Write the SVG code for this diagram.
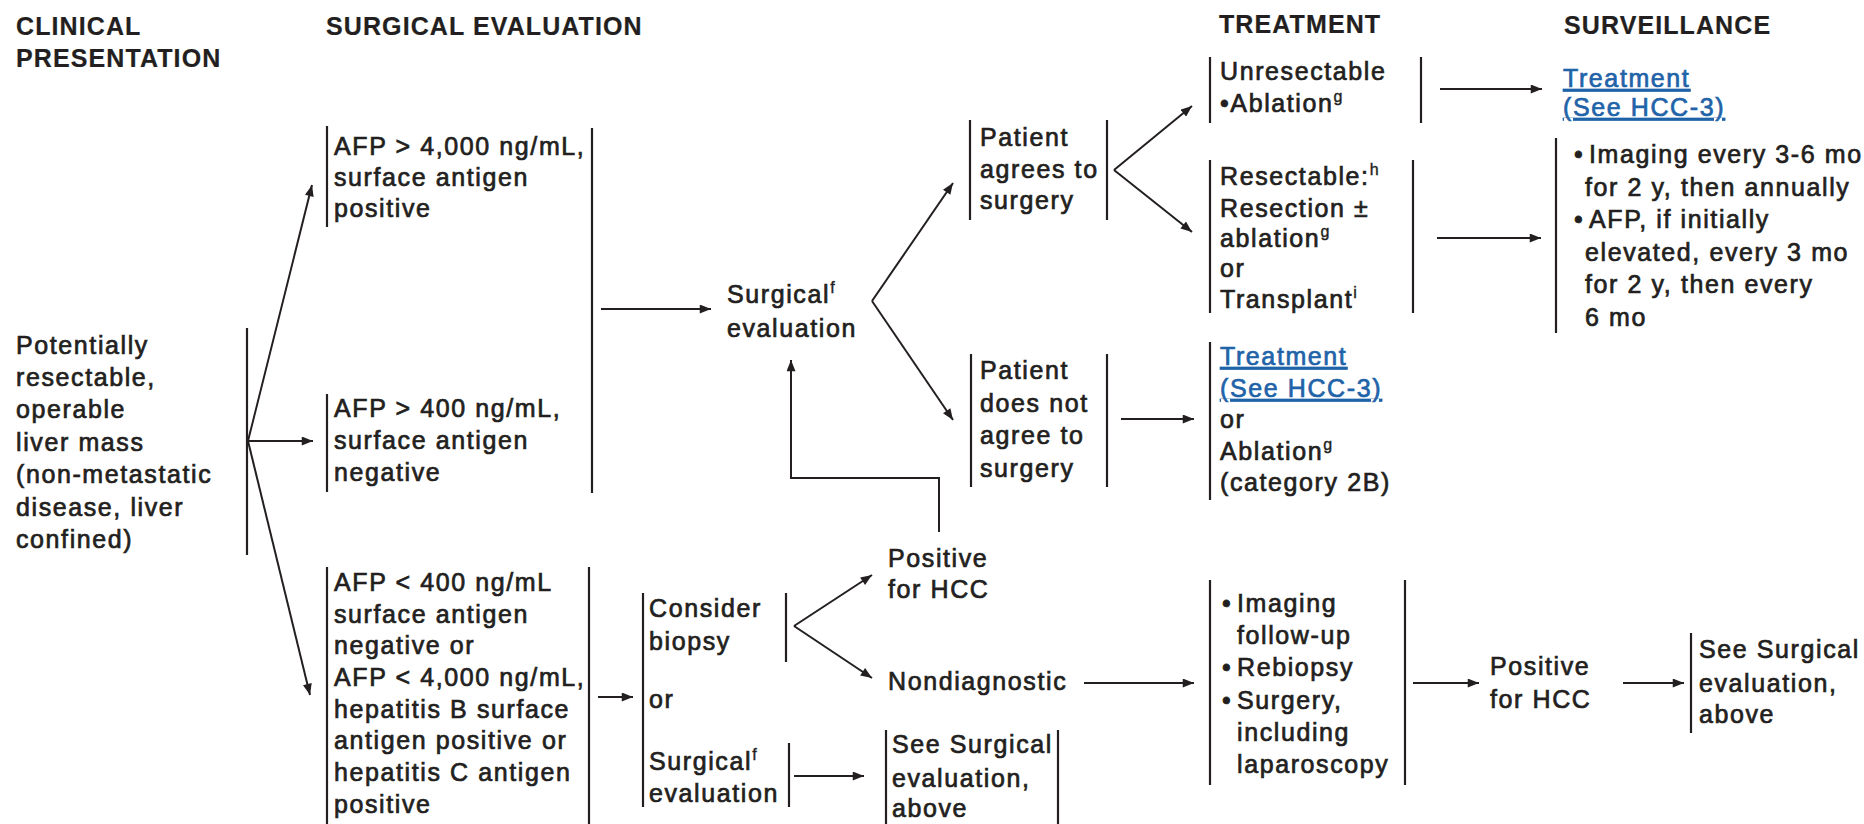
<svg xmlns="http://www.w3.org/2000/svg" width="1864" height="824" viewBox="0 0 1864 824">
  <style>
    text { font-family: "Liberation Sans", Arial, sans-serif; font-size: 25px; letter-spacing: 1.6px; fill: #231f20; stroke: #231f20; stroke-width: 0.7px; }
    .head { font-weight: bold; letter-spacing: 1.1px; stroke-width: 0.2px; }
    .sup { font-size: 16px; letter-spacing: 0; stroke-width: 0.4px; }
    .link { fill: #1f63a8; stroke: #1f63a8; text-decoration: underline; }
    .bar { stroke: #231f20; stroke-width: 2.2; fill: none; }
    .conn { stroke: #231f20; stroke-width: 2; fill: none; marker-end: url(#ah); }
  </style>
  <defs>
    <marker id="ah" viewBox="0 0 10 8" refX="10" refY="4" markerWidth="12" markerHeight="9" markerUnits="userSpaceOnUse" orient="auto">
      <path d="M0,0 L10,4 L0,8 z" fill="#231f20"/>
    </marker>
  </defs>
  <rect width="1864" height="824" fill="#ffffff"/>

  <!-- column headings -->
  <g id="headings">
    <text class="head" x="16" y="35">CLINICAL</text>
    <text class="head" x="16" y="67">PRESENTATION</text>
    <text class="head" x="326" y="35">SURGICAL EVALUATION</text>
    <text class="head" x="1219" y="33">TREATMENT</text>
    <text class="head" x="1564" y="34">SURVEILLANCE</text>
  </g>

  <!-- connectors -->
  <g id="connectors">
    <line class="conn" x1="248" y1="441" x2="312" y2="185"/>
    <line class="conn" x1="248" y1="441" x2="313" y2="441"/>
    <line class="conn" x1="248" y1="441" x2="310" y2="695"/>
    <line class="conn" x1="601" y1="309" x2="711" y2="309"/>
    <line class="conn" x1="872" y1="301" x2="953" y2="183"/>
    <line class="conn" x1="872" y1="301" x2="953" y2="420"/>
    <path class="conn" d="M939,532 L939,478 L791,478 L791,360"/>
    <line class="conn" x1="1114" y1="170" x2="1192" y2="106"/>
    <line class="conn" x1="1114" y1="170" x2="1192" y2="232"/>
    <line class="conn" x1="1440" y1="89" x2="1542" y2="89"/>
    <line class="conn" x1="1437" y1="238" x2="1541" y2="238"/>
    <line class="conn" x1="1121" y1="419" x2="1194" y2="419"/>
    <line class="conn" x1="598" y1="697" x2="633" y2="697"/>
    <line class="conn" x1="794" y1="626" x2="872" y2="575"/>
    <line class="conn" x1="794" y1="626" x2="872" y2="678"/>
    <line class="conn" x1="794" y1="776" x2="864" y2="776"/>
    <line class="conn" x1="1084" y1="683" x2="1194" y2="683"/>
    <line class="conn" x1="1413" y1="683" x2="1479" y2="683"/>
    <line class="conn" x1="1623" y1="683" x2="1684" y2="683"/>
  </g>

  <g id="presentation">
    <line class="bar" x1="247" y1="328" x2="247" y2="555"/>
    <text x="16" y="354">Potentially</text>
    <text x="16" y="386">resectable,</text>
    <text x="16" y="418">operable</text>
    <text x="16" y="451">liver mass</text>
    <text x="16" y="483">(non-metastatic</text>
    <text x="16" y="516">disease, liver</text>
    <text x="16" y="548">confined)</text>
  </g>

  <g id="afp-high-positive">
    <line class="bar" x1="327" y1="126" x2="327" y2="227"/>
    <text x="334" y="155">AFP &gt; 4,000 ng/mL,</text>
    <text x="334" y="186">surface antigen</text>
    <text x="334" y="217">positive</text>
  </g>

  <g id="afp-high-negative">
    <line class="bar" x1="327" y1="394" x2="327" y2="492"/>
    <text x="334" y="417">AFP &gt; 400 ng/mL,</text>
    <text x="334" y="449">surface antigen</text>
    <text x="334" y="481">negative</text>
  </g>

  <g id="afp-high-group">
    <line class="bar" x1="592" y1="128" x2="592" y2="493"/>
  </g>

  <g id="afp-low">
    <line class="bar" x1="327" y1="567" x2="327" y2="824"/>
    <line class="bar" x1="589" y1="567" x2="589" y2="824"/>
    <text x="334" y="591">AFP &lt; 400 ng/mL</text>
    <text x="334" y="623">surface antigen</text>
    <text x="334" y="654">negative or</text>
    <text x="334" y="686">AFP &lt; 4,000 ng/mL,</text>
    <text x="334" y="718">hepatitis B surface</text>
    <text x="334" y="749">antigen positive or</text>
    <text x="334" y="781">hepatitis C antigen</text>
    <text x="334" y="813">positive</text>
  </g>

  <g id="surgical-evaluation">
    <text x="727" y="303">Surgical<tspan class="sup" dy="-10">f</tspan></text>
    <text x="727" y="337">evaluation</text>
  </g>

  <g id="patient-agrees">
    <line class="bar" x1="970" y1="120" x2="970" y2="220"/>
    <line class="bar" x1="1107" y1="120" x2="1107" y2="220"/>
    <text x="980" y="146">Patient</text>
    <text x="980" y="178">agrees to</text>
    <text x="980" y="209">surgery</text>
  </g>

  <g id="patient-declines">
    <line class="bar" x1="971" y1="354" x2="971" y2="487"/>
    <line class="bar" x1="1107" y1="354" x2="1107" y2="487"/>
    <text x="980" y="379">Patient</text>
    <text x="980" y="412">does not</text>
    <text x="980" y="444">agree to</text>
    <text x="980" y="477">surgery</text>
  </g>

  <g id="unresectable">
    <line class="bar" x1="1210" y1="57" x2="1210" y2="123"/>
    <line class="bar" x1="1421" y1="57" x2="1421" y2="123"/>
    <text x="1220" y="80">Unresectable</text>
    <text x="1220" y="112">•Ablation<tspan class="sup" dy="-10">g</tspan></text>
  </g>

  <g id="resectable">
    <line class="bar" x1="1210" y1="160" x2="1210" y2="313"/>
    <line class="bar" x1="1413" y1="160" x2="1413" y2="313"/>
    <text x="1220" y="185">Resectable:<tspan class="sup" dy="-10">h</tspan></text>
    <text x="1220" y="217">Resection ±</text>
    <text x="1220" y="247">ablation<tspan class="sup" dy="-10">g</tspan></text>
    <text x="1220" y="277">or</text>
    <text x="1220" y="308">Transplant<tspan class="sup" dy="-10">i</tspan></text>
  </g>

  <g id="treatment-link-top">
    <text class="link" x="1563" y="87">Treatment</text>
    <text class="link" x="1563" y="116">(See HCC-3)</text>
  </g>

  <g id="surveillance">
    <line class="bar" x1="1556" y1="138" x2="1556" y2="333"/>
    <text x="1574" y="163">•</text>
    <text x="1589" y="163">Imaging every 3-6 mo</text>
    <text x="1585" y="196">for 2 y, then annually</text>
    <text x="1574" y="228">•</text>
    <text x="1589" y="228">AFP, if initially</text>
    <text x="1585" y="261">elevated, every 3 mo</text>
    <text x="1585" y="293">for 2 y, then every</text>
    <text x="1585" y="326">6 mo</text>
  </g>

  <g id="treatment-or-ablation">
    <line class="bar" x1="1210" y1="342" x2="1210" y2="500"/>
    <text class="link" x="1220" y="365">Treatment</text>
    <text class="link" x="1220" y="397">(See HCC-3)</text>
    <text x="1220" y="428">or</text>
    <text x="1220" y="460">Ablation<tspan class="sup" dy="-10">g</tspan></text>
    <text x="1220" y="491">(category 2B)</text>
  </g>

  <g id="biopsy-options">
    <line class="bar" x1="643" y1="593" x2="643" y2="807"/>
    <line class="bar" x1="786" y1="593" x2="786" y2="662"/>
    <line class="bar" x1="789" y1="743" x2="789" y2="807"/>
    <text x="649" y="617">Consider</text>
    <text x="649" y="650">biopsy</text>
    <text x="649" y="708">or</text>
    <text x="649" y="770">Surgical<tspan class="sup" dy="-10">f</tspan></text>
    <text x="649" y="802">evaluation</text>
  </g>

  <g id="biopsy-positive">
    <text x="888" y="567">Positive</text>
    <text x="888" y="598">for HCC</text>
  </g>

  <g id="biopsy-nondiagnostic">
    <text x="888" y="690">Nondiagnostic</text>
  </g>

  <g id="see-surgical-mid">
    <line class="bar" x1="886" y1="730" x2="886" y2="824"/>
    <line class="bar" x1="1058" y1="730" x2="1058" y2="824"/>
    <text x="892" y="753">See Surgical</text>
    <text x="892" y="787">evaluation,</text>
    <text x="892" y="817">above</text>
  </g>

  <g id="follow-up">
    <line class="bar" x1="1210" y1="580" x2="1210" y2="785"/>
    <line class="bar" x1="1405" y1="580" x2="1405" y2="785"/>
    <text x="1222" y="612">•</text>
    <text x="1237" y="612">Imaging</text>
    <text x="1237" y="644">follow-up</text>
    <text x="1222" y="676">•</text>
    <text x="1237" y="676">Rebiopsy</text>
    <text x="1222" y="709">•</text>
    <text x="1237" y="709">Surgery,</text>
    <text x="1237" y="741">including</text>
    <text x="1237" y="773">laparoscopy</text>
  </g>

  <g id="follow-up-positive">
    <text x="1490" y="675">Positive</text>
    <text x="1490" y="708">for HCC</text>
  </g>

  <g id="see-surgical-right">
    <line class="bar" x1="1691" y1="633" x2="1691" y2="733"/>
    <text x="1699" y="658">See Surgical</text>
    <text x="1699" y="692">evaluation,</text>
    <text x="1699" y="723">above</text>
  </g>
</svg>
